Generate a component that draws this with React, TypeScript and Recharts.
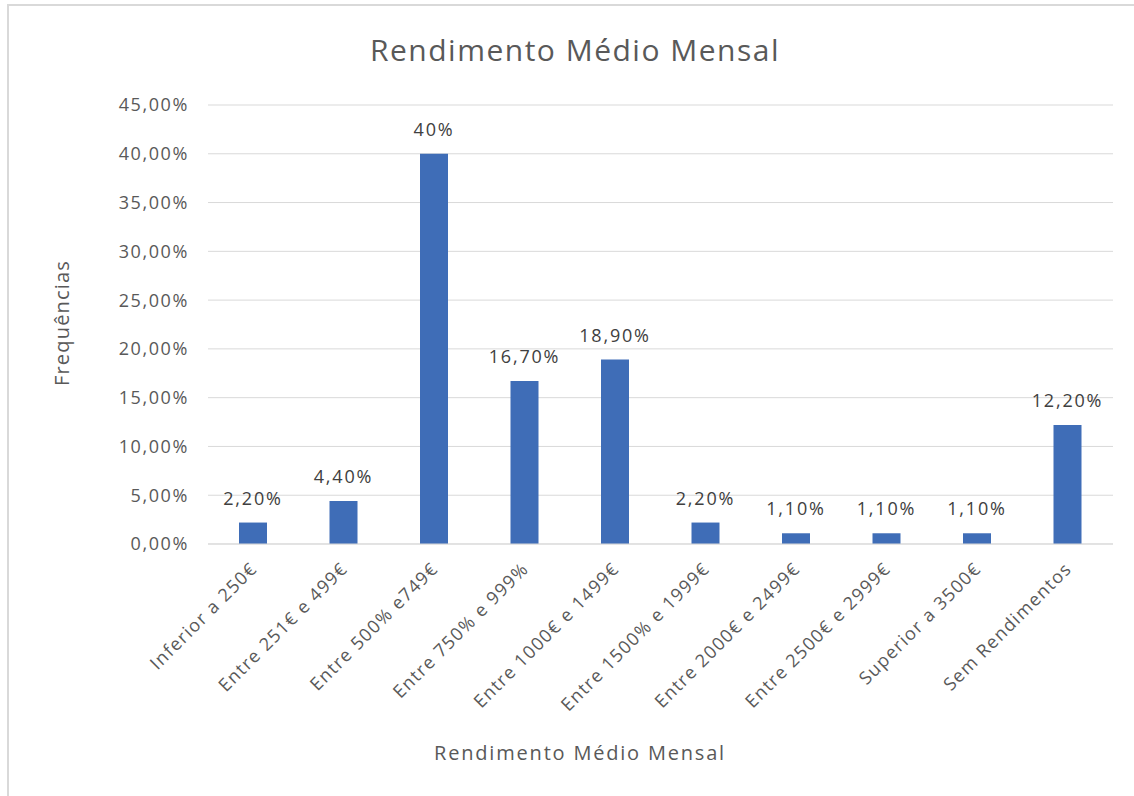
import React from 'react';
import { BarChart, Bar, XAxis, YAxis, CartesianGrid, LabelList } from 'recharts';

const categories = [
  'Inferior a 250€',
  'Entre 251€ e 499€',
  'Entre 500% e749€',
  'Entre 750% e 999%',
  'Entre 1000€ e 1499€',
  'Entre 1500% e 1999€',
  'Entre 2000€ e 2499€',
  'Entre 2500€ e 2999€',
  'Superior a 3500€',
  'Sem Rendimentos',
];
const frequencies = [2.2, 4.4, 40, 16.7, 18.9, 2.2, 1.1, 1.1, 1.1, 12.2];
const valueLabels = ['2,20%', '4,40%', '40%', '16,70%', '18,90%', '2,20%', '1,10%', '1,10%', '1,10%', '12,20%'];
const yTicks = [0, 5, 10, 15, 20, 25, 30, 35, 40, 45];

const data = categories.map((name, i) => ({ name, freq: frequencies[i], label: valueLabels[i] }));

const FONT = '"Open Sans", sans-serif';
const TEXT = '#595959';

const fmtPct = (v: number) => v.toFixed(2).replace('.', ',') + '%';

function XTick({ x, y, payload }: any) {
  const ax = x + 5;
  const ay = y + 24;
  return (
    <text x={ax} y={ay} transform={`rotate(-45 ${ax} ${ay})`} textAnchor="end"
      fill={TEXT} fontSize={18} fontFamily={FONT} letterSpacing={1.3}>
      {payload.value}
    </text>
  );
}

export default function App() {
  return (
    <div style={{ position: 'absolute', left: 0, top: 0, width: 1134, height: 796, background: '#fff', overflow: 'hidden', fontFamily: FONT }}>
      {/* chart frame, only top/left edges are visible in the crop */}
      <div style={{ position: 'absolute', left: 7, top: 4, width: 1200, height: 900, borderLeft: '2px solid #d9d9d9', borderTop: '2px solid #d9d9d9' }} />

      <div style={{ position: 'absolute', left: 0, top: 28, width: 1150, textAlign: 'center', fontSize: 30, color: TEXT, letterSpacing: 1.5, lineHeight: '44px' }}>
        Rendimento Médio Mensal
      </div>
      <div style={{ position: 'absolute', left: 0, top: 738, width: 1160, textAlign: 'center', fontSize: 20, color: TEXT, letterSpacing: 1.8, lineHeight: '30px' }}>
        Rendimento Médio Mensal
      </div>
      <div style={{ position: 'absolute', left: 62, top: 323, transform: 'translate(-50%, -50%) rotate(-90deg)', fontSize: 20, color: TEXT, letterSpacing: 1.2, whiteSpace: 'nowrap', lineHeight: '30px' }}>
        Frequências
      </div>

      <div style={{ position: 'absolute', left: 0, top: 0 }}>
        <BarChart width={1134} height={796} data={data}
          margin={{ top: 105, right: 21, left: 108, bottom: 52 }}>
          <CartesianGrid vertical={false} stroke="#d9d9d9" />
          <XAxis dataKey="name" interval={0} height={200} tickLine={false} tickSize={0}
            axisLine={{ stroke: '#d9d9d9' }} tick={<XTick />} />
          <YAxis width={100} domain={[0, 45]} ticks={yTicks} interval={0} axisLine={false}
            tickLine={false} tickSize={0} tickMargin={19} tickFormatter={fmtPct}
            tick={{ fill: TEXT, fontSize: 18, fontFamily: FONT, letterSpacing: 1.6 }} />
          <Bar dataKey="freq" fill="#3F6DB7" barSize={28} isAnimationActive={false}>
            <LabelList dataKey="label" position="top" offset={18}
              style={{ fill: '#404040', fontSize: 18, fontFamily: FONT, letterSpacing: 1.8 }} />
          </Bar>
        </BarChart>
      </div>
    </div>
  );
}
